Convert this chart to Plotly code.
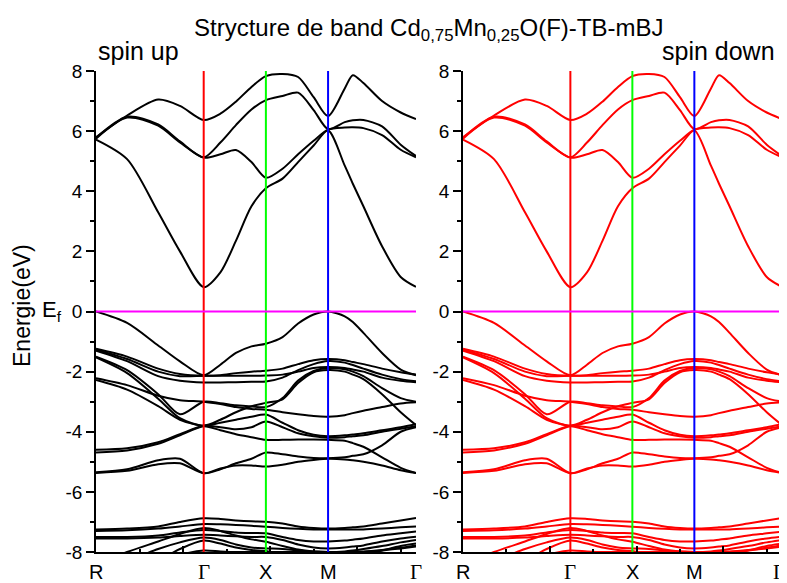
import plotly.graph_objects as go

# ---------------- data ----------------
K = [0.0, 0.5, 1.0, 1.35, 1.732, 2.0, 2.25, 2.5, 2.732, 3.0, 3.25, 3.5, 3.732, 4.0, 4.13, 4.3, 4.6, 4.9, 5.146]
SYM_K = [0.0, 1.732, 2.732, 3.732, 5.146]
SYM_LABELS = ["R", "Γ", "X", "M", "Γ"]
SYM_LINE_COLORS = [None, "#ff0000", "#00ff00", "#0000ff", None]

Y_TICKS = [-8, -6, -4, -2, 0, 2, 4, 6, 8]
Y_TICK_TEXT = ["-8", "-6", "-4", "-2", "0", "2", "4", "6", "8"]
Y_MINOR = [-7, -5, -3, -1, 1, 3, 5, 7]
Y_RIGHT_TICKS = [-6.4, -4.8, -3.2, -1.6, 0, 1.6, 3.2, 4.8, 6.4]

# conduction bands
CB1 = [5.72, 5.07, 3.3, 2.0, 0.81, 1.3, 2.35, 3.5, 4.1, 4.42, 4.97, 5.52, 6.02, 4.85, 4.25, 3.5, 2.17, 1.15, 0.82]
CB2 = [5.75, 6.45, 6.18, 5.62, 5.12, 5.23, 5.37, 4.97, 4.45, 4.75, 5.23, 5.68, 6.05, 6.12, 6.13, 6.1, 5.87, 5.38, 5.13]
CB3 = [5.78, 6.48, 6.22, 5.66, 5.13, 5.62, 6.2, 6.72, 7.03, 7.17, 7.28, 6.7, 6.07, 6.3, 6.36, 6.37, 6.16, 5.55, 5.17]
CB4 = [5.8, 6.52, 7.05, 6.84, 6.37, 6.58, 6.98, 7.47, 7.83, 7.9, 7.8, 7.13, 6.5, 7.42, 7.86, 7.6, 7.0, 6.62, 6.4]

# valence bands
VB1 = [0.0, -0.38, -1.13, -1.66, -2.12, -1.77, -1.38, -1.16, -1.07, -0.85, -0.4, -0.1, 0.0, -0.16, -0.35, -0.71, -1.38, -1.93, -2.12]
VB2 = [-1.24, -1.5, -1.9, -2.08, -2.14, -2.12, -2.05, -2.0, -1.97, -1.9, -1.75, -1.62, -1.58, -1.62, -1.68, -1.75, -1.9, -2.02, -2.1]
VB3 = [-1.3, -1.65, -2.15, -2.3, -2.36, -2.36, -2.35, -2.34, -2.33, -2.2, -1.95, -1.75, -1.65, -1.7, -1.78, -1.9, -2.1, -2.25, -2.32]
VB4 = [-1.5, -1.95, -2.75, -3.42, -3.0, -3.05, -3.12, -3.16, -3.18, -2.88, -2.3, -1.98, -1.88, -1.92, -2.0, -2.15, -2.55, -2.88, -3.0]
VB5 = [-1.53, -2.05, -2.9, -3.55, -3.8, -3.6, -3.35, -3.15, -3.04, -2.92, -2.38, -2.02, -1.95, -2.0, -2.1, -2.25, -2.75, -3.35, -3.78]
VB6 = [-2.22, -2.45, -2.8, -2.95, -3.0, -3.08, -3.18, -3.24, -3.27, -3.35, -3.42, -3.48, -3.5, -3.45, -3.38, -3.3, -3.18, -3.06, -3.02]
VB7 = [-2.28, -2.6, -3.15, -3.6, -3.8, -3.7, -3.6, -3.5, -3.43, -3.7, -3.95, -4.1, -4.15, -4.12, -4.09, -4.05, -3.95, -3.85, -3.75]
VB8 = [-4.6, -4.55, -4.35, -4.08, -3.8, -3.85, -3.92, -3.85, -3.66, -3.85, -4.05, -4.15, -4.2, -4.18, -4.15, -4.12, -4.0, -3.9, -3.82]
VB9 = [-4.69, -4.62, -4.4, -4.12, -3.82, -3.95, -4.08, -4.18, -4.27, -4.27, -4.26, -4.26, -4.27, -4.3, -4.38, -4.5, -4.85, -5.2, -5.37]
VB10 = [-1.27, -1.58, -2.0, -2.15, -2.14, -2.14, -2.14, -2.14, -2.13, -2.1, -2.0, -1.88, -1.85, -1.88, -1.93, -2.0, -2.2, -2.3, -2.35]
VB11 = [-5.35, -5.25, -4.95, -4.9, -5.38, -5.25, -5.05, -4.9, -4.69, -4.75, -4.82, -4.87, -4.88, -4.85, -4.8, -4.75, -4.45, -4.0, -3.85]
VB12 = [-5.37, -5.3, -5.08, -5.05, -5.38, -5.22, -5.12, -5.12, -5.16, -5.1, -5.0, -4.94, -4.9, -4.92, -4.95, -5.0, -5.12, -5.28, -5.37]

# low-lying bands (-7 .. -8 and below)
LB1 = [-7.25, -7.22, -7.15, -7.0, -6.88, -6.9, -6.95, -6.98, -6.99, -7.05, -7.15, -7.2, -7.22, -7.2, -7.18, -7.15, -7.05, -6.95, -6.87]
LB2 = [-7.3, -7.28, -7.22, -7.15, -7.07, -7.08, -7.1, -7.13, -7.16, -7.2, -7.23, -7.25, -7.25, -7.25, -7.25, -7.25, -7.22, -7.18, -7.15]
LB3 = [-7.5, -7.5, -7.45, -7.35, -7.27, -7.3, -7.35, -7.37, -7.38, -7.5, -7.6, -7.65, -7.65, -7.62, -7.59, -7.55, -7.45, -7.38, -7.32]
LB4 = [-7.55, -7.55, -7.52, -7.47, -7.43, -7.45, -7.48, -7.5, -7.5, -7.6, -7.75, -7.85, -7.88, -7.85, -7.82, -7.78, -7.65, -7.55, -7.49]
LB5 = [-8.4, -8.0, -7.65, -7.4, -7.2, -7.3, -7.45, -7.58, -7.66, -7.8, -7.92, -7.98, -8.0, -7.98, -7.95, -7.9, -7.8, -7.68, -7.6]
LB6 = [-8.6, -8.3, -7.9, -7.68, -7.52, -7.6, -7.75, -7.85, -7.88, -7.9, -7.95, -7.98, -8.0, -8.05, -8.03, -8.0, -7.95, -7.88, -7.82]
LB7 = [-8.9, -8.7, -8.35, -8.1, -7.95, -7.98, -8.0, -8.0, -8.0, -8.0, -8.0, -8.0, -8.0, -8.0, -7.99, -7.98, -7.93, -7.86, -7.78]
LB8 = [-9.0, -8.8, -8.3, -7.9, -7.62, -7.72, -7.85, -7.93, -7.97, -8.1, -8.2, -8.25, -8.25, -8.2, -8.15, -8.1, -7.95, -7.8, -7.72]

SPIN_UP = [CB1, CB2, CB3, CB4, VB1, VB2, VB3, VB4, VB5, VB6, VB7, VB8, VB9, VB10, VB11, VB12,
           LB1, LB2, LB3, LB4, LB5, LB6, LB7, LB8]
SPIN_DOWN = [CB1, CB2, CB3, CB4, VB1, VB2, VB3, VB4, VB5, VB6, VB7, VB8, VB9, VB10, VB11, VB12,
             LB1, LB2, LB3, LB4, LB5, LB6, LB7, LB8]

# ---------------- layout geometry ----------------
OFF = 8                     # page body margin
W, H = 787 - OFF, 583 - OFF
FONT = "Liberation Sans, Arial, sans-serif"
SERIF = "Liberation Serif, Times New Roman, serif"


def px(x):
    return (x - OFF) / W


def py(y):
    return 1 - (y - OFF) / H


PANELS = [
    dict(x0=96, x1=416, color="#000000", xa="x", ya="y", xt="x3", yr="y3", bands=SPIN_UP),
    dict(x0=463, x1=782, color="#ff0000", xa="x2", ya="y2", xt="x4", yr="y4", bands=SPIN_DOWN),
]
Y_TOP, Y_BOT = 71, 552

fig = go.Figure()
for p in PANELS:
    for b in p["bands"]:
        fig.add_trace(go.Scatter(x=K, y=b, mode="lines", xaxis=p["xa"], yaxis=p["ya"],
                                 line=dict(color=p["color"], width=2, shape="spline", smoothing=0.8),
                                 showlegend=False, hoverinfo="skip"))

layout = dict(width=W, height=H, autosize=False, margin=dict(l=0, r=0, t=0, b=0, pad=0),
              paper_bgcolor="white", plot_bgcolor="white", showlegend=False,
              font=dict(family=FONT, size=19, color="black"))


def axname(a):
    return ("xaxis" if a[0] == "x" else "yaxis") + a[1:]


kmax = SYM_K[-1]
for p in PANELS:
    dom_x = [px(p["x0"]), px(p["x1"])]
    dom_y = [py(Y_BOT), py(Y_TOP)]
    layout[axname(p["xa"])] = dict(domain=dom_x, range=[0, kmax], anchor=p["ya"], showline=True,
                                   linecolor="black", linewidth=1.5, ticks="inside", ticklen=6, tickwidth=1.5,
                                   tickcolor="black", tick0=0, dtick=1.4, showticklabels=False,
                                   showgrid=False, zeroline=False, automargin=False,
                                   minor=dict(dtick=0.7, tick0=0, ticks="inside", ticklen=3, tickcolor="black"))
    layout[axname(p["xt"])] = dict(overlaying=p["xa"], side="top", anchor=p["ya"], range=[0, kmax],
                                   showline=True, linecolor="black", linewidth=1.5, ticks="inside",
                                   ticklen=6, tickwidth=1.5, tickcolor="black", tick0=0, dtick=kmax / 5,
                                   showticklabels=False, showgrid=False, zeroline=False, automargin=False,
                                   minor=dict(dtick=kmax / 10, tick0=0, ticks="inside", ticklen=3,
                                              tickcolor="black"))
    layout[axname(p["ya"])] = dict(domain=dom_y, range=[-8, 8], anchor=p["xa"], showline=True,
                                   linecolor="black", linewidth=1.5, ticks="outside", ticklen=8,
                                   tickwidth=1.5, tickcolor="black", tickmode="array", tickvals=Y_TICKS,
                                   ticktext=Y_TICK_TEXT, showgrid=False, zeroline=False, automargin=False,
                                   tickfont=dict(family=FONT, size=19),
                                   minor=dict(tickmode="array", tickvals=Y_MINOR,
                                              ticks="outside", ticklen=4, tickcolor="black"))
    layout[axname(p["yr"])] = dict(overlaying=p["ya"], side="right", anchor=p["xa"], range=[-8, 8],
                                   showline=True, linecolor="#009999", linewidth=1.5, ticks="inside",
                                   ticklen=6, tickwidth=1.5, tickcolor="black", tickmode="array",
                                   tickvals=Y_RIGHT_TICKS, automargin=False,
                                   showticklabels=False, showgrid=False, zeroline=False)

shapes = []
for p in PANELS:
    for k, c in zip(SYM_K, SYM_LINE_COLORS):
        if c is None:
            continue
        shapes.append(dict(type="line", xref=p["xa"], yref=p["ya"] + " domain", x0=k, x1=k, y0=0, y1=1,
                           line=dict(color=c, width=2)))
    shapes.append(dict(type="line", xref=p["xa"] + " domain", yref=p["ya"], x0=0, x1=1, y0=0, y1=0,
                       line=dict(color="#ff00ff", width=2)))
layout["shapes"] = shapes

ann = []
ann.append(dict(text="Strycture de band Cd<sub>0,75</sub>Mn<sub>0,25</sub>O(F)-TB-mBJ", x=px(428), y=py(30),
                xref="paper", yref="paper", xanchor="center", yanchor="middle", showarrow=False,
                font=dict(family=FONT, size=24)))
ann.append(dict(text="spin up", x=px(96), y=py(51), xref="paper", yref="paper", xanchor="left",
                yanchor="middle", showarrow=False, font=dict(family=FONT, size=25)))
ann.append(dict(text="spin down", x=px(777), y=py(51), xref="paper", yref="paper", xanchor="right",
                yanchor="middle", showarrow=False, font=dict(family=FONT, size=25)))
ann.append(dict(text="Energie(eV)", x=px(22), y=py(306), xref="paper", yref="paper", xanchor="center",
                yanchor="middle", textangle=-90, showarrow=False, font=dict(family=FONT, size=23)))
ann.append(dict(text="E<sub>f</sub>", x=px(64), y=py(311), xref="paper", yref="paper", xanchor="right",
                yanchor="middle", showarrow=False, font=dict(family=FONT, size=22)))
for p in PANELS:
    for k, lab in zip(SYM_K, SYM_LABELS):
        fx = p["x0"] + (p["x1"] - p["x0"]) * k / kmax
        if fx > 778:
            fx = 779
        fam = SERIF if lab == "Γ" else FONT
        sz = 21 if lab == "Γ" else 20
        ann.append(dict(text=lab, x=px(fx), y=py(572), xref="paper", yref="paper", xanchor="center",
                        yanchor="middle", showarrow=False, font=dict(family=fam, size=sz)))
layout["annotations"] = ann

fig.update_layout(**layout)
fig.write_html("out.html")
